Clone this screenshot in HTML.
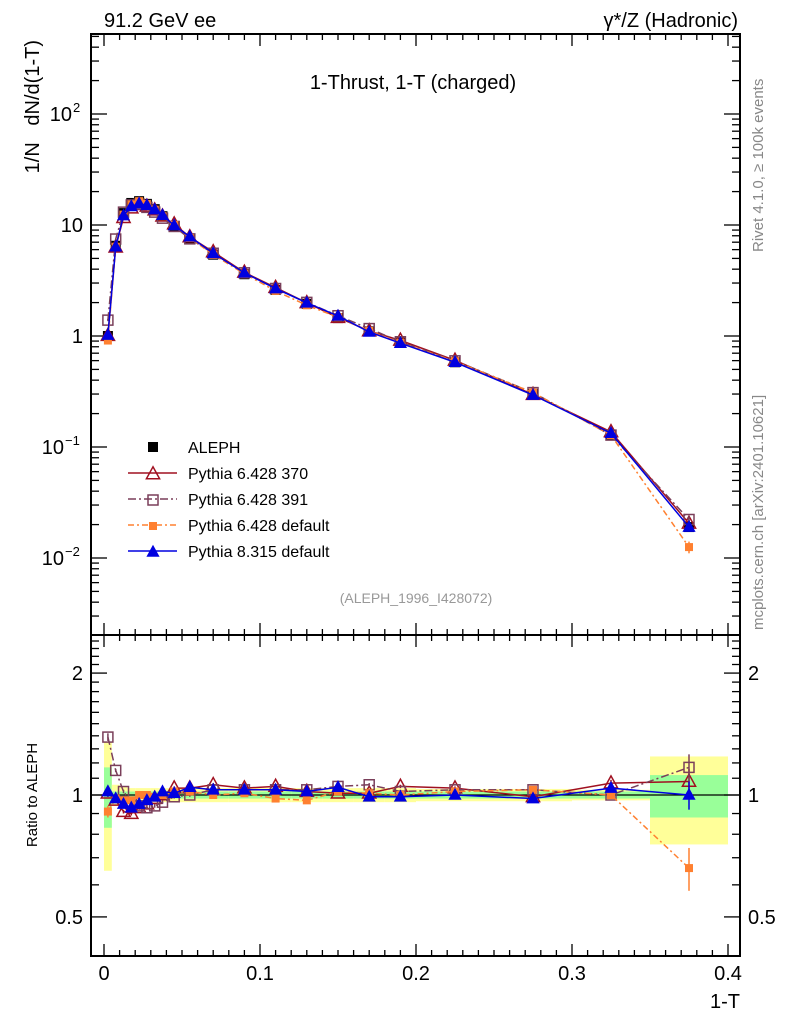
<!DOCTYPE html>
<html><head><meta charset="utf-8"><style>
html,body{margin:0;padding:0;background:#fff;}
svg{display:block;font-family:"Liberation Sans",sans-serif;}
</style></head><body>
<svg id="chart" width="786" height="1024" viewBox="0 0 786 1024" xmlns="http://www.w3.org/2000/svg">
<g id="bands"></g>
<g id="grid"></g>
<g id="series"></g>
<text x="104" y="27" font-size="20">91.2 GeV ee</text>
<text x="738" y="27" font-size="20" text-anchor="end">γ*/Z (Hadronic)</text>
<text x="413" y="89" font-size="20" text-anchor="middle">1-Thrust, 1-T (charged)</text>
<text transform="translate(39,40) rotate(-90)" font-size="20" text-anchor="end" xml:space="preserve">1/N   dN/d(1-T)</text>
<text transform="translate(37,795) rotate(-90)" font-size="15" text-anchor="middle">Ratio to ALEPH</text>
<text x="740" y="1008" font-size="20" text-anchor="end">1-T</text>
<text transform="translate(763,252) rotate(-90)" font-size="15" fill="#888">Rivet 4.1.0, ≥ 100k events</text>
<text transform="translate(763,630) rotate(-90)" font-size="15" fill="#888">mcplots.cern.ch [arXiv:2401.10621]</text>
<text x="416" y="603" font-size="14" fill="#999" text-anchor="middle">(ALEPH_1996_I428072)</text>
<g id="legend"></g>
</svg>
<script>
const xCenters=[0.0025,0.0075,0.0125,0.0175,0.0225,0.0275,0.0325,0.0375,0.045,0.055,0.07,0.09,0.11,0.13,0.15,0.17,0.19,0.225,0.275,0.325,0.375];
const xLo=[0,0.005,0.01,0.015,0.02,0.025,0.03,0.035,0.04,0.05,0.06,0.08,0.1,0.12,0.14,0.16,0.18,0.2,0.25,0.3,0.35];
const xHi=[0.005,0.01,0.015,0.02,0.025,0.03,0.035,0.04,0.05,0.06,0.08,0.1,0.12,0.14,0.16,0.18,0.2,0.25,0.3,0.35,0.4];
const aleph=[1.0,6.5,12.8,15.8,16.4,15.5,13.9,12.0,9.8,7.5,5.4,3.6,2.6,1.95,1.45,1.1,0.87,0.58,0.30,0.128,0.019];
const bandTotal=[0.35,0.06,0.05,0.04,0.04,0.04,0.04,0.04,0.04,0.04,0.04,0.04,0.04,0.04,0.04,0.04,0.04,0.035,0.035,0.03,0.245];
const bandStat=[0.17,0.02,0.02,0.02,0.02,0.02,0.02,0.02,0.02,0.02,0.02,0.02,0.02,0.02,0.02,0.02,0.02,0.02,0.02,0.02,0.12];
const r370=[1.01,0.97,0.91,0.90,0.93,0.95,0.98,1.0,1.04,1.04,1.06,1.04,1.05,1.02,1.01,1.01,1.05,1.04,0.99,1.07,1.08];
const r391=[1.39,1.15,1.02,0.96,0.94,0.93,0.94,0.96,0.99,1.0,1.03,1.03,1.03,1.03,1.05,1.06,1.02,1.03,1.03,1.0,1.17];
const r6def=[0.91,0.98,0.97,0.97,1.0,1.0,0.99,1.0,1.02,1.02,1.0,1.01,0.98,0.97,1.02,1.01,1.0,1.02,1.03,1.0,0.66];
const r8def=[1.02,0.98,0.95,0.93,0.95,0.97,0.99,1.02,1.01,1.045,1.03,1.03,1.03,1.02,1.045,0.99,0.99,1.0,0.98,1.04,1.0];
const e370=[0.02,0.01,0.01,0.01,0.01,0.01,0.01,0.01,0.01,0.01,0.01,0.01,0.01,0.01,0.01,0.01,0.01,0.01,0.01,0.02,0.08];
const e391=[0.03,0.01,0.01,0.01,0.01,0.01,0.01,0.01,0.01,0.01,0.01,0.01,0.01,0.01,0.01,0.01,0.01,0.01,0.01,0.02,0.09];
const e6def=[0.03,0.01,0.01,0.01,0.01,0.01,0.01,0.01,0.01,0.01,0.01,0.01,0.01,0.01,0.01,0.01,0.01,0.01,0.01,0.02,0.08];
const e8def=[0.03,0.01,0.01,0.01,0.01,0.01,0.01,0.01,0.01,0.01,0.01,0.01,0.01,0.01,0.01,0.01,0.01,0.01,0.01,0.02,0.08];
const xTicks=[0,0.1,0.2,0.3,0.4];
const mainTicks=[-2,-1,0,1,2];
const mainTickBase=["10","10","1","10","10"];
const mainTickExp=["−2","−1","","","2"];
const ratioTicks=[0.5,1,2];

const NS="http://www.w3.org/2000/svg";
const L=91,R=740,T=34,MB=635,RB=956;
const X=v=>104+1560*v;
const YM=v=>336-111*Math.log10(v);
const YR=v=>795-405*Math.log10(v);
function mk(tag,attrs,parent){const e=document.createElementNS(NS,tag);for(const k in attrs)e.setAttribute(k,attrs[k]);parent.appendChild(e);return e;}
const grid=document.getElementById('grid'),bands=document.getElementById('bands'),ser=document.getElementById('series'),leg=document.getElementById('legend');

xCenters.forEach((c,i)=>{
  const y1=mk('rect',{x:X(xLo[i]),width:X(xHi[i])-X(xLo[i]),y:YR(1+bandTotal[i]),height:YR(1-bandTotal[i])-YR(1+bandTotal[i]),fill:'#ffff99'},bands);
  
  
  const g1=mk('rect',{x:X(xLo[i]),width:X(xHi[i])-X(xLo[i]),y:YR(1+bandStat[i]),height:YR(1-bandStat[i])-YR(1+bandStat[i]),fill:'#99ff99'},bands);
  
  
});
mk('line',{x1:L,x2:R,y1:YR(1),y2:YR(1),stroke:'#000','stroke-width':1.2},grid);

[[T,MB],[MB,RB]].forEach(([t,b])=>{mk('rect',{x:L,y:t,width:R-L,height:b-t,fill:'none',stroke:'#000','stroke-width':2},grid);});
for(let k=0;k<=40;k++){const v=k/100,x=X(v),maj=k%10===0,len=maj?12:6;
  [[T,1],[MB,-1],[MB,1],[RB,-1]].forEach(([y,d])=>mk('line',{x1:x,x2:x,y1:y,y2:y+d*len,stroke:'#000','stroke-width':1.3},grid));}
xTicks.forEach(v=>{const t=mk('text',{x:X(v),y:980,'font-size':20,'text-anchor':'middle'},grid);t.textContent=v===0?'0':String(v);
  
  });
for(let d=-3;d<=2;d++){for(let m=1;m<=9;m++){const v=m*Math.pow(10,d),y=YM(v);if(y<T||y>MB)continue;const len=m===1?16:8;
  mk('line',{x1:L,x2:L+len,y1:y,y2:y,stroke:'#000','stroke-width':1.3},grid);mk('line',{x1:R,x2:R-len,y1:y,y2:y,stroke:'#000','stroke-width':1.3},grid);}}
mainTicks.forEach((p,i)=>{const y=YM(Math.pow(10,p))+7;
  const t=mk('text',{x:mainTickExp[i]?(mainTickExp[i].length>1?64:72):83,y:y,'font-size':20,'text-anchor':'end'},grid);t.textContent=mainTickBase[i];
  
  
  if(mainTickExp[i]){const s=mk('text',{x:mainTickExp[i].length>1?65:73,y:y-9,'font-size':13},grid);s.textContent=mainTickExp[i];
    
    }
});
const rt=[0.4,0.5,0.6,0.7,0.8,0.9,1,1.1,1.2,1.3,1.4,1.5,1.6,1.7,1.8,1.9,2,2.1,2.2,2.3,2.4];
rt.forEach(v=>{const y=YR(v);if(y<MB||y>RB)return;const len=(v===0.5||v===1||v===2)?16:8;
  mk('line',{x1:L,x2:L+len,y1:y,y2:y,stroke:'#000','stroke-width':1.3},grid);mk('line',{x1:R,x2:R-len,y1:y,y2:y,stroke:'#000','stroke-width':1.3},grid);});
ratioTicks.forEach(v=>{[[83,'end'],[748,'start']].forEach(([x,a])=>{const t=mk('text',{x:x,y:YR(v)+7,'font-size':20,'text-anchor':a},grid);t.textContent=String(v);
  
  });});

function marker(type,x,y,col,g,s){
  if(type==='sqfill')return mk('rect',{x:x-s,y:y-s,width:2*s,height:2*s,fill:col},g);
  if(type==='sqopen')return mk('rect',{x:x-s,y:y-s,width:2*s,height:2*s,fill:'none',stroke:col,'stroke-width':1.5},g);
  if(type==='triopen')return mk('polygon',{points:`${x},${y-s*1.2} ${x-s*1.1},${y+s*0.8} ${x+s*1.1},${y+s*0.8}`,fill:'none',stroke:col,'stroke-width':1.5},g);
  return mk('polygon',{points:`${x},${y-s*1.2} ${x-s*1.1},${y+s*0.8} ${x+s*1.1},${y+s*0.8}`,fill:col},g);
}
const series=[
 {name:'pythia-6428-370',r:r370,e:e370,col:'#a01020',dash:'',m:'triopen',s:6},
 {name:'pythia-6428-391',r:r391,e:e391,col:'#7a3f5a',dash:'8,3,2,3',m:'sqopen',s:5},
 {name:'pythia-6428-default',r:r6def,e:e6def,col:'#ff8030',dash:'6,3,2,3',m:'sqfill',s:4},
 {name:'pythia-8315-default',r:r8def,e:e8def,col:'#0000e0',dash:'',m:'trifill',s:6}
];
const gA=mk('g',{},ser);


aleph.forEach((v,i)=>{const p=marker('sqfill',X(xCenters[i]),YM(v),'#000',gA,5);
  
  });
series.forEach(s=>{
  const g=mk('g',{},ser);
  
  
  const pm=xCenters.map((c,i)=>X(c)+','+YM(aleph[i]*s.r[i])).join(' ');
  const pr=xCenters.map((c,i)=>X(c)+','+YR(s.r[i])).join(' ');
  const a={fill:'none',stroke:s.col,'stroke-width':1.5};if(s.dash)a['stroke-dasharray']=s.dash;
  mk('polyline',Object.assign({points:pm},a),g);
  mk('polyline',Object.assign({points:pr},a),g);
  xCenters.forEach((c,i)=>{
    const x=X(c);
    mk('line',{x1:x,x2:x,y1:YR(s.r[i]+s.e[i]),y2:YR(s.r[i]-s.e[i]),stroke:s.col,'stroke-width':1.5},g);
    mk('line',{x1:x,x2:x,y1:YM(aleph[i]*(s.r[i]+s.e[i])),y2:YM(aleph[i]*(s.r[i]-s.e[i])),stroke:s.col,'stroke-width':1.5},g);
    const p1=marker(s.m,x,YM(aleph[i]*s.r[i]),s.col,g,s.s);
    
    
    const p2=marker(s.m,x,YR(s.r[i]),s.col,g,s.s);
    
    
  });
});
const lt=['ALEPH','Pythia 6.428 370','Pythia 6.428 391','Pythia 6.428 default','Pythia 8.315 default'];
lt.forEach((t,i)=>{const y=447+26*i;
  const e=mk('g',{},leg);
  
  
  if(i===0){marker('sqfill',153,y,'#000',e,5);}
  else{const s=series[i-1];const a={x1:128,x2:177,y1:y,y2:y,stroke:s.col,'stroke-width':1.5};if(s.dash)a['stroke-dasharray']=s.dash;mk('line',a,e);marker(s.m,153,y+1,s.col,e,s.s);}
  const tx=mk('text',{x:188,y:y+6,'font-size':16},e);tx.textContent=t;});
</script>
</body></html>
